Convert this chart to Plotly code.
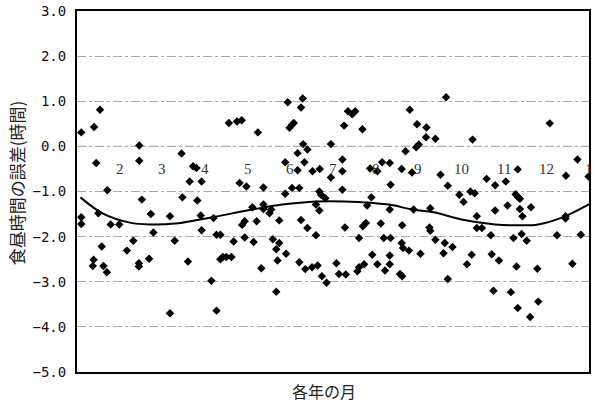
import plotly.graph_objects as go

# Observed daytime-length error (hours) by position in the year (months since 1 Jan)
obs_month = [
    0.10, 0.40, 0.54, 0.45, 1.46, 1.46, 0.71, 1.52, 0.10, 0.10, 0.50, 0.79, 0.99, 1.73, 1.79,
    0.58, 1.32, 1.17, 0.39, 0.37, 0.62, 0.70, 1.45, 1.45, 1.69,
    2.45, 2.72, 2.80, 2.64, 2.92, 3.56, 3.75, 3.86, 3.81, 3.97, 2.47, 2.82, 2.18, 2.90, 3.20,
    2.92, 2.29, 3.27, 3.36, 3.67, 3.93, 3.87, 3.93, 4.11, 2.60, 3.36, 3.42, 3.50, 3.62, 3.15,
    2.18, 3.27,
    4.14, 4.94, 5.29, 5.25, 4.24, 4.98, 5.04, 5.08, 5.30, 5.95, 5.17, 5.40, 4.88, 5.33, 5.17,
    5.52, 5.69, 5.95, 6.22, 6.22, 4.37, 4.88, 5.04, 5.21, 5.68, 5.72, 5.82, 6.22, 4.37, 4.37,
    4.51, 4.55, 4.21, 4.74, 5.60, 5.68, 5.25, 5.40, 5.60, 4.59, 4.74, 4.67, 4.90, 4.70, 4.32,
    5.21, 5.35, 5.51, 5.64, 5.74, 5.85, 6.08, 6.14, 4.67, 6.28,
    6.35, 6.45, 6.52, 6.26, 6.69, 7.80, 7.97, 8.19, 8.18, 8.40, 8.01, 7.95, 7.70, 7.15, 7.33,
    6.87, 7.04, 7.61, 7.85, 7.35, 6.90, 6.80, 7.33, 7.89, 8.28, 6.70, 6.77, 7.12, 7.62, 8.26,
    8.28, 6.61, 7.19, 7.35, 7.61, 7.64, 7.78, 8.05, 6.92, 7.33, 6.73, 6.61, 6.57, 7.04, 7.33,
    7.22, 6.30, 7.57, 7.62,
    8.65, 9.27, 8.52, 8.69, 9.60, 9.80, 10.05, 10.33, 9.22, 9.32, 8.96, 9.06, 10.28, 10.34,
    10.38, 10.09, 9.80, 9.37, 9.37, 9.49, 8.40, 8.62, 8.80, 9.70, 10.23, 8.59, 9.25, 9.14,
    9.72, 9.89, 10.30, 8.69, 9.76, 10.17, 10.33,
    11.08, 11.46, 11.73, 11.99, 10.64, 10.38, 10.44, 11.45, 11.45, 10.42, 10.54, 11.25, 11.81,
    10.79, 11.61, 10.81, 10.62,
]
obs_error = [
    0.31, 0.43, 0.81, -0.37, 0.02, -0.32, -0.97, -1.18, -1.57, -1.72, -1.48, -1.73, -1.73, -1.50, -1.91,
    -2.22, -2.09, -2.31, -2.51, -2.65, -2.65, -2.79, -2.59, -2.66, -2.49,
    -0.16, -0.44, -0.48, -0.78, -0.78, 0.52, 0.55, 0.58, -0.81, -0.89, -1.13, -1.20, -1.55, -1.53, -1.59,
    -1.86, -2.09, -1.96, -1.96, -2.11, -2.02, -1.74, -1.66, -1.35, -2.55, -2.50, -2.45, -2.45, -2.45, -2.98,
    -3.70, -3.64,
    -2.12, 0.98, 1.06, 0.86, 0.31, 0.41, 0.48, 0.52, 0.05, 0.05, -0.15, -0.07, -0.35, -0.35, -0.53,
    -0.55, -0.50, -0.69, -0.29, -0.55, -0.91, -1.05, -0.92, -0.92, -1.00, -1.07, -1.15, -0.96, -1.29, -1.39,
    -1.48, -1.40, -1.66, -1.64, -1.29, -1.42, -1.63, -1.81, -1.97, -2.06, -2.14, -2.28, -2.38, -2.53, -2.70,
    -2.57, -2.72, -2.68, -2.64, -2.88, -3.02, -2.59, -2.83, -3.22, -1.80,
    0.78, 0.71, 0.78, 0.46, 0.38, 0.81, 0.49, 0.42, 0.20, 0.17, 0.04, -0.02, -0.11, -0.35, -0.37,
    -0.49, -0.55, -0.50, -0.58, -0.85, -1.13, -1.31, -1.40, -1.40, -1.37, -1.77, -1.70, -1.71, -1.75, -1.80,
    -1.87, -2.03, -2.03, -2.03, -2.14, -2.25, -2.31, -2.38, -2.40, -2.42, -2.61, -2.68, -2.77, -2.61, -2.61,
    -2.75, -2.84, -2.83, -2.88,
    1.09, 0.15, -0.63, -0.87, -0.72, -0.86, -0.78, -0.51, -1.00, -1.04, -1.07, -1.23, -1.06, -1.13,
    -1.16, -1.31, -1.42, -1.55, -1.81, -1.81, -2.07, -2.14, -2.23, -1.97, -2.03, -2.37, -2.40, -2.61,
    -2.39, -2.53, -2.66, -2.94, -3.20, -3.23, -3.58,
    0.51, -0.65, -0.29, -0.67, -1.35, -1.39, -1.55, -1.55, -1.60, -1.94, -2.09, -1.97, -1.96,
    -2.71, -2.60, -3.44, -3.78,
]

# Smoothed seasonal trend
trend_month = [0.08, 0.61, 1.24, 1.71, 2.30, 2.88, 3.18, 4.11, 4.81, 5.61, 6.26, 7.31,
               7.85, 8.36, 9.01, 9.80, 10.34, 10.81, 11.44, 11.91, 12.0]
trend_error = [-1.13, -1.49, -1.69, -1.73, -1.71, -1.62, -1.57, -1.40, -1.29, -1.22, -1.22, -1.29,
               -1.40, -1.46, -1.62, -1.73, -1.75, -1.73, -1.55, -1.33, -1.28]

# Month markers inside the plot
month_pos = [1, 2, 3, 4, 5, 6, 7, 8, 9, 10, 11, 12]
month_text = ["2", "3", "4", "5", "6", "7", "8", "9", "10", "11", "12", "1"]
month_label_y = -0.5

y_ticks = [3, 2, 1, 0, -1, -2, -3, -4, -5]
y_ticktext = ["3.0", "2.0", "1.0", "0.0", "\u22121.0", "\u22122.0", "\u22123.0", "\u22124.0", "\u22125.0"]

fig = go.Figure()
fig.add_trace(go.Scatter(
    x=obs_month, y=obs_error, mode="markers",
    marker=dict(symbol="diamond", size=6.5, color="black", line=dict(width=0)),
    showlegend=False, hoverinfo="skip",
))
fig.add_trace(go.Scatter(
    x=trend_month, y=trend_error, mode="lines",
    line=dict(color="black", width=2, shape="spline", smoothing=1.0),
    showlegend=False, hoverinfo="skip",
))

for pos, txt in zip(month_pos, month_text):
    fig.add_annotation(x=pos, y=month_label_y, text=txt, showarrow=False,
                       font=dict(family="Liberation Serif, DejaVu Serif, serif", size=15, color="#333333"),
                       xanchor="center", yanchor="middle")

# Zero reference line, a little darker than the other grid lines
fig.add_shape(type="line", xref="paper", x0=0, x1=1, yref="y", y0=0, y1=0,
              line=dict(color="#555555", width=1, dash="dashdot"), layer="below")

W, H = 593, 402
ml, mr, mt, mb = 77, 2, 11, 30
pw, ph = W - ml - mr, H - mt - mb

# Axis titles
fig.add_annotation(text="各年の月", showarrow=False, xref="paper", yref="paper",
                   x=(325 - ml) / pw, y=(H - mb - 391) / ph, xanchor="center", yanchor="middle",
                   font=dict(family="Noto Sans CJK JP", size=16, color="#222222"))
fig.add_annotation(text="食昼時間の誤差(時間)", showarrow=False, xref="paper", yref="paper",
                   x=(16 - ml) / pw, y=(H - mb - 183) / ph, xanchor="center", yanchor="middle",
                   textangle=-90,
                   font=dict(family="Noto Sans CJK JP", size=17, color="#222222"))

fig.update_layout(
    width=W, height=H,
    margin=dict(l=ml, r=mr, t=mt, b=mb),
    paper_bgcolor="white", plot_bgcolor="white",
    xaxis=dict(range=[0, 12], showticklabels=False, ticks="", showgrid=False, zeroline=False,
               showline=True, linecolor="black", linewidth=2, mirror=True, fixedrange=True),
    yaxis=dict(range=[-5, 3], tickvals=y_ticks, ticktext=y_ticktext, ticks="",
               tickfont=dict(family="DejaVu Sans Mono", size=14, color="#111111"),
               ticklabelstandoff=6,
               showgrid=True, gridcolor="#aaaaaa", gridwidth=1, griddash="dashdot",
               zeroline=False,
               showline=True, linecolor="black", linewidth=2, mirror=True, fixedrange=True),
)

fig.write_html("out.html")
